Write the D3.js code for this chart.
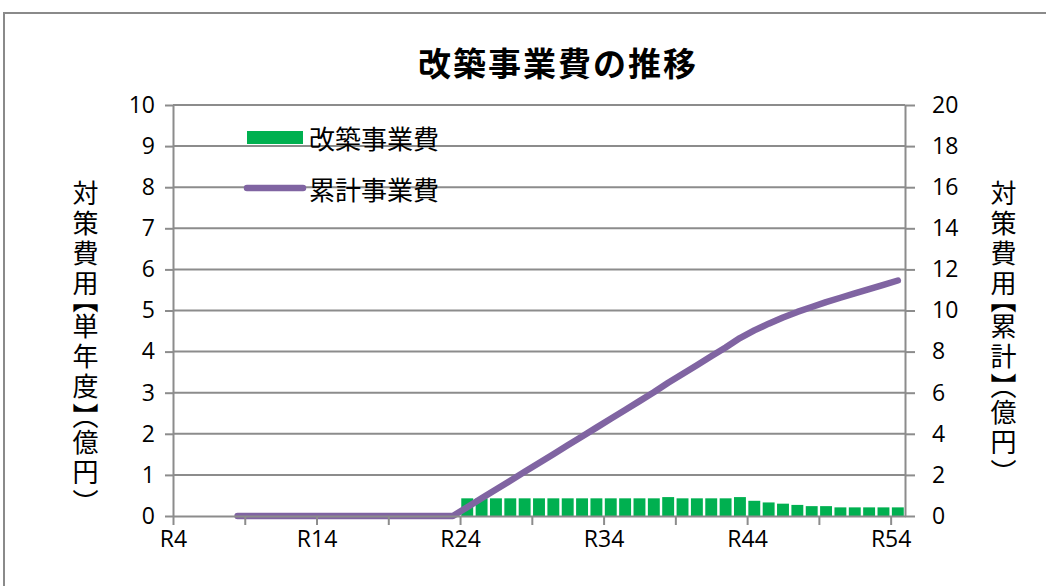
<!DOCTYPE html>
<html>
<head>
<meta charset="utf-8">
<script src="https://cdn.jsdelivr.net/npm/d3@7"></script>
<style>
  html, body { margin: 0; padding: 0; background: #fff; }
  svg { display: block; }
  .jp { font-family: "Noto Sans CJK JP", "Noto Sans", sans-serif; }
  .num { font-family: "Open Sans", "Liberation Sans", sans-serif; }
  .vtitle {
    font-family: "Noto Sans CJK JP", sans-serif;
    font-size: 26px;
    line-height: 30px;
    color: #000;
    writing-mode: vertical-rl;
    text-orientation: mixed;
    letter-spacing: 4px;
    margin: 0;
    white-space: nowrap;
  }
  .vtitle .br { font-feature-settings: "vhal" 1; letter-spacing: 0; }
</style>
</head>
<body>
<svg id="chart" width="1046" height="586"></svg>
<script>
// Fiscal years R4 .. R54
const categories = d3.range(4, 55).map(y => "R" + y);

// Annual reconstruction cost (億円); null = no entry, 0 = planned with no spend
const annualCost = [
  null, null, null, null,                     // R4-R7
  0, 0, 0, 0, 0, 0, 0, 0, 0, 0, 0, 0, 0, 0, 0, 0, // R8-R23
  0.43, 0.43, 0.43, 0.43, 0.43, 0.43, 0.43,   // R24-R30
  0.43, 0.43, 0.43, 0.43, 0.43, 0.43, 0.43,   // R31-R37
  0.46, 0.43, 0.43, 0.43, 0.43, 0.46,         // R38-R43
  0.37, 0.33, 0.30, 0.27, 0.24, 0.24,         // R44-R49
  0.21, 0.21, 0.21, 0.21, 0.21                // R50-R54
];

// Cumulative cost (億円)
const cumulativeCost = [
  null, null, null, null,
  0, 0, 0, 0, 0, 0, 0, 0, 0, 0, 0, 0, 0, 0, 0, 0,
  0.43, 0.86, 1.29, 1.72, 2.15, 2.58, 3.01,
  3.44, 3.87, 4.30, 4.73, 5.16, 5.59, 6.02,
  6.48, 6.91, 7.34, 7.77, 8.20, 8.66,
  9.03, 9.36, 9.66, 9.93, 10.17, 10.41,
  10.62, 10.83, 11.04, 11.25, 11.46
];

const leftTicks = d3.range(0, 11, 1);
const rightTicks = d3.range(0, 21, 2);
const tickEvery = 5;
const labelEvery = 10;

const titleText = "改築事業費の推移";
const legendBar = "改築事業費";
const legendLine = "累計事業費";
const leftTitle = "対策費用【単年度】（億円）";
const rightTitle = "対策費用【累計】（億円）";

const barColor = "#00B050";
const lineColor = "#8064A2";
const axisColor = "#8c8c8c";

const svg = d3.select("#chart");
const plot = { left: 173, right: 905, top: 105, bottom: 516 };

// outer chart frame
svg.append("rect")
  .attr("x", 4).attr("y", 13)
  .attr("width", 1100).attr("height", 700)
  .attr("fill", "#fff")
  .attr("stroke", "#8a8a8a").attr("stroke-width", 2);

// scales
const xIdx = d3.scaleLinear().domain([0, categories.length]).range([plot.left, plot.right]);
const xBand = d3.scaleBand().domain(categories).range([plot.left, plot.right])
  .paddingInner(0.17).paddingOuter(0.085);
const yL = d3.scaleLinear().domain([0, 10]).range([plot.bottom, plot.top]);
const yR = d3.scaleLinear().domain([0, 20]).range([plot.bottom, plot.top]);

// horizontal gridlines
svg.append("g").selectAll("line")
  .data(leftTicks.filter(t => t > 0))
  .join("line")
  .attr("x1", plot.left).attr("x2", plot.right)
  .attr("y1", d => yL(d)).attr("y2", d => yL(d))
  .attr("stroke", axisColor).attr("stroke-width", 2);

// title
svg.append("text").attr("class", "jp")
  .attr("x", 558).attr("y", 76)
  .attr("text-anchor", "middle")
  .attr("font-size", 33).attr("font-weight", "bold")
  .attr("letter-spacing", 2)
  .attr("fill", "#000")
  .text(titleText);

// bars
const barData = categories.map((c, i) => ({ c, v: annualCost[i] }));
svg.append("g").selectAll("rect")
  .data(barData.filter(d => d.v != null && d.v > 0))
  .join("rect")
  .attr("x", d => xBand(d.c))
  .attr("width", xBand.bandwidth())
  .attr("y", d => yL(d.v))
  .attr("height", d => yL(0) - yL(d.v))
  .attr("fill", barColor);

// cumulative line
const lineData = categories.map((c, i) => ({ c, v: cumulativeCost[i] }));
const line = d3.line()
  .defined(d => d.v != null)
  .x(d => xBand(d.c) + xBand.bandwidth() / 2)
  .y(d => yR(d.v));
svg.append("path")
  .datum(lineData)
  .attr("d", line)
  .attr("fill", "none")
  .attr("stroke", lineColor)
  .attr("stroke-width", 6.5)
  .attr("stroke-linejoin", "round")
  .attr("stroke-linecap", "round");

// axes
function styleAxis(g) {
  g.select(".domain").attr("stroke", axisColor).attr("stroke-width", 2);
  g.selectAll(".tick line").attr("stroke", axisColor).attr("stroke-width", 2);
  g.selectAll(".tick text").attr("fill", "#000");
}

const axL = svg.append("g")
  .attr("transform", `translate(${plot.left},0)`)
  .call(d3.axisLeft(yL).tickValues(leftTicks).tickSize(8).tickSizeOuter(0).tickPadding(10))
  .attr("class", "num").attr("font-size", 23).attr("font-family", null);
styleAxis(axL);

const axR = svg.append("g")
  .attr("transform", `translate(${plot.right},0)`)
  .call(d3.axisRight(yR).tickValues(rightTicks).tickSize(10).tickSizeOuter(0).tickPadding(17))
  .attr("class", "num").attr("font-size", 23).attr("font-family", null);
styleAxis(axR);

const xTickIdx = d3.range(0, categories.length, tickEvery);
const axB = svg.append("g")
  .attr("transform", `translate(0,${plot.bottom})`)
  .call(d3.axisBottom(xIdx).tickValues(xTickIdx).tickSize(9).tickSizeOuter(0).tickPadding(6)
    .tickFormat(i => i % labelEvery === 0 ? categories[i] : ""))
  .attr("class", "num").attr("font-size", 23).attr("font-family", null);
styleAxis(axB);

// legend
const lg = svg.append("g").attr("class", "jp");
lg.append("rect")
  .attr("x", 247).attr("y", 131).attr("width", 56).attr("height", 13)
  .attr("fill", barColor);
lg.append("text")
  .attr("x", 309).attr("y", 137).attr("dominant-baseline", "central")
  .attr("font-size", 26).attr("fill", "#000")
  .text(legendBar);
lg.append("line")
  .attr("x1", 247).attr("x2", 303).attr("y1", 188).attr("y2", 188)
  .attr("stroke", lineColor).attr("stroke-width", 6.5).attr("stroke-linecap", "round");
lg.append("text")
  .attr("x", 309).attr("y", 188).attr("dominant-baseline", "central")
  .attr("font-size", 26).attr("fill", "#000")
  .text(legendLine);

// vertical axis titles set in vertical writing mode (brackets take their
// vertical forms; half-height alternates keep them compact)
const brackets = "【】（）";
function verticalTitle(cx, topY, txt) {
  const colW = 30;
  const fo = svg.append("foreignObject")
    .attr("x", cx - colW / 2).attr("y", topY)
    .attr("width", colW).attr("height", 360);
  const div = fo.append("xhtml:div").attr("class", "vtitle");
  div.selectAll("span")
    .data(Array.from(txt))
    .join("span")
    .attr("class", ch => brackets.includes(ch) ? "br" : null)
    .text(ch => ch);
}
verticalTitle(85, 180, leftTitle);
verticalTitle(1003, 180, rightTitle);
</script>
</body>
</html>
